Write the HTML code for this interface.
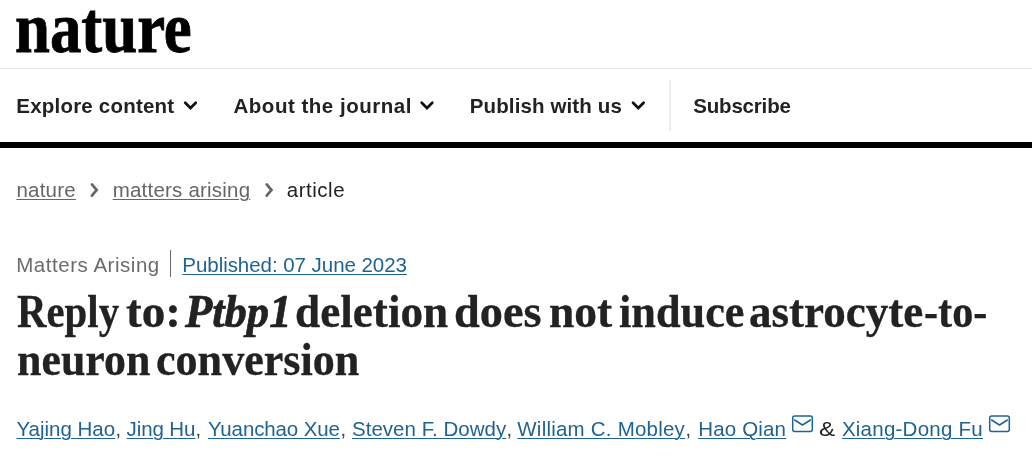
<!DOCTYPE html>
<html lang="en"><head><meta charset="utf-8"><title>Reply to: Ptbp1 deletion does not induce astrocyte-to-neuron conversion | Nature</title>
<style>
html,body{margin:0;padding:0;background:#fff;}
body{width:1032px;height:463px;position:relative;overflow:hidden;font-family:'Liberation Sans',Arial,sans-serif;}
ul,ol,li,h1,nav,header,main,article,p{margin:0;padding:0;list-style:none;font-weight:inherit;font-size:inherit;}
a{color:inherit;}
.t{position:absolute;white-space:pre;display:block;}
#n1{left:16.25px;top:76.00px;font:bold 20.5px 'Liberation Sans', Arial, sans-serif;line-height:60px;letter-spacing:0.214px;color:#222;}
#n2{left:233.50px;top:76.00px;font:bold 20.5px 'Liberation Sans', Arial, sans-serif;line-height:60px;letter-spacing:0.516px;color:#222;}
#n3{left:469.75px;top:76.00px;font:bold 20.5px 'Liberation Sans', Arial, sans-serif;line-height:60px;letter-spacing:0.125px;color:#222;}
#n4{left:693.25px;top:76.00px;font:bold 20.5px 'Liberation Sans', Arial, sans-serif;line-height:60px;letter-spacing:-0.188px;color:#222;}
#b1{left:16.40px;top:160.00px;font:20.5px 'Liberation Sans', Arial, sans-serif;line-height:60px;letter-spacing:0.225px;color:#666;text-decoration:underline;text-decoration-thickness:1px;text-underline-offset:2px;}
#b2{left:112.70px;top:160.00px;font:20.5px 'Liberation Sans', Arial, sans-serif;line-height:60px;letter-spacing:0.213px;color:#666;text-decoration:underline;text-decoration-thickness:1px;text-underline-offset:2px;}
#b3{left:286.80px;top:160.00px;font:20.5px 'Liberation Sans', Arial, sans-serif;line-height:60px;letter-spacing:0.508px;color:#222;}
#m1{left:16.25px;top:235.00px;font:20.5px 'Liberation Sans', Arial, sans-serif;line-height:60px;letter-spacing:0.529px;color:#6b6b6b;}
#m2{left:182.30px;top:235.00px;font:20.5px 'Liberation Sans', Arial, sans-serif;line-height:60px;letter-spacing:-0.046px;color:#1f6392;text-decoration:underline;text-decoration-thickness:1px;text-underline-offset:2px;}
#t1{left:16.72px;top:282.00px;font:bold 45px 'Liberation Serif', 'Times New Roman', serif;line-height:60px;color:#222;-webkit-text-stroke:0.3px #222;transform-origin:0 45px;transform:scale(0.9076,1.03);}
#t1b{left:126.48px;top:282.00px;font:bold 45px 'Liberation Serif', 'Times New Roman', serif;line-height:60px;color:#222;-webkit-text-stroke:0.3px #222;transform-origin:0 45px;transform:scale(1.0479,1.03);}
#t2{left:184.99px;top:282.00px;font:italic bold 45px 'Liberation Serif', 'Times New Roman', serif;line-height:60px;color:#222;-webkit-text-stroke:0.7px #222;transform-origin:0 45px;transform:scale(0.9899,1.03);}
#t3{left:295.24px;top:282.00px;font:bold 45px 'Liberation Serif', 'Times New Roman', serif;line-height:60px;color:#222;-webkit-text-stroke:0.3px #222;transform-origin:0 45px;transform:scale(1.005,1.03);}
#t4{left:454.40px;top:282.00px;font:bold 45px 'Liberation Serif', 'Times New Roman', serif;line-height:60px;color:#222;-webkit-text-stroke:0.3px #222;transform-origin:0 45px;transform:scale(1.0298,1.03);}
#t5{left:548.69px;top:282.00px;font:bold 45px 'Liberation Serif', 'Times New Roman', serif;line-height:60px;color:#222;-webkit-text-stroke:0.3px #222;transform-origin:0 45px;transform:scale(1.0114,1.03);}
#t6{left:618.56px;top:282.00px;font:bold 45px 'Liberation Serif', 'Times New Roman', serif;line-height:60px;color:#222;-webkit-text-stroke:0.3px #222;transform-origin:0 45px;transform:scale(0.9837,1.03);}
#t7{left:748.75px;top:282.00px;font:bold 45px 'Liberation Serif', 'Times New Roman', serif;line-height:60px;color:#222;-webkit-text-stroke:0.3px #222;transform-origin:0 45px;transform:scale(1.0015,1.03);}
#t7b{left:923.59px;top:282.00px;font:bold 45px 'Liberation Serif', 'Times New Roman', serif;line-height:60px;color:#222;-webkit-text-stroke:0.3px #222;transform-origin:0 45px;transform:scale(0.9395,1.03);}
#t8{left:16.82px;top:330.00px;font:bold 45px 'Liberation Serif', 'Times New Roman', serif;line-height:60px;color:#222;-webkit-text-stroke:0.3px #222;transform-origin:0 45px;transform:scale(0.976,1.03);}
#t9{left:156.13px;top:330.00px;font:bold 45px 'Liberation Serif', 'Times New Roman', serif;line-height:60px;color:#222;-webkit-text-stroke:0.3px #222;transform-origin:0 45px;transform:scale(0.98,1.03);}
#a1{left:16.40px;top:399.00px;font:20.5px 'Liberation Sans', Arial, sans-serif;line-height:60px;letter-spacing:-0.005px;color:#1f6392;text-decoration:underline;text-decoration-thickness:1px;text-underline-offset:2px;}
#a2{left:126.60px;top:399.00px;font:20.5px 'Liberation Sans', Arial, sans-serif;line-height:60px;letter-spacing:-0.114px;color:#1f6392;text-decoration:underline;text-decoration-thickness:1px;text-underline-offset:2px;}
#a3{left:207.90px;top:399.00px;font:20.5px 'Liberation Sans', Arial, sans-serif;line-height:60px;letter-spacing:-0.117px;color:#1f6392;text-decoration:underline;text-decoration-thickness:1px;text-underline-offset:2px;}
#a4{left:352.00px;top:399.00px;font:20.5px 'Liberation Sans', Arial, sans-serif;line-height:60px;letter-spacing:0.023px;color:#1f6392;text-decoration:underline;text-decoration-thickness:1px;text-underline-offset:2px;}
#a5{left:517.30px;top:399.00px;font:20.5px 'Liberation Sans', Arial, sans-serif;line-height:60px;letter-spacing:0.218px;color:#1f6392;text-decoration:underline;text-decoration-thickness:1px;text-underline-offset:2px;}
#a6{left:698.20px;top:399.00px;font:20.5px 'Liberation Sans', Arial, sans-serif;line-height:60px;letter-spacing:0.162px;color:#1f6392;text-decoration:underline;text-decoration-thickness:1px;text-underline-offset:2px;}
#a7{left:819.31px;top:399.00px;font:20.5px 'Liberation Sans', Arial, sans-serif;line-height:60px;color:#222;transform-origin:0 37px;transform:scale(1.184,1);}
#a8{left:841.90px;top:399.00px;font:20.5px 'Liberation Sans', Arial, sans-serif;line-height:60px;letter-spacing:0.246px;color:#1f6392;text-decoration:underline;text-decoration-thickness:1px;text-underline-offset:2px;}
.ln{position:absolute;display:block;}
#hl1{left:0;top:68px;width:1032px;height:1px;background:#e9e9e9;}
#hl2{left:0;top:142px;width:1032px;height:6px;background:#000;}
#vs1{left:669px;top:80px;width:2px;height:51px;background:#efefef;}
#vs2{left:170px;top:250px;width:1px;height:27px;background:#6a6a6a;}
svg.ic{position:absolute;overflow:visible;}
#logo{position:absolute;display:block;text-decoration:none;left:15.4px;top:-2px;-webkit-text-stroke:0.9px #000;font:bold 72px 'Liberation Serif','Times New Roman',serif;line-height:60px;color:#000;white-space:pre;transform-origin:0 0;transform:scaleX(0.872);}
.cm{position:absolute;font:20px 'Liberation Sans',Arial,sans-serif;line-height:60px;color:#444;top:399px;}

</style></head><body>
<header class="site-header">
<a id="logo" href="#">nature</a>
<i class="ln" id="hl1"></i>
<nav class="main-menu"><ul>
<li><span class="t" id="n1">Explore content</span></li>
<li><span class="t" id="n2">About the journal</span></li>
<li><span class="t" id="n3">Publish with us</span></li>
<li><i class="ln" id="vs1"></i><span class="t" id="n4">Subscribe</span></li>
</ul></nav>
<i class="ln" id="hl2"></i>
</header>
<nav class="breadcrumb"><ol>
<li><a class="t" id="b1" href="#">nature</a></li>
<li><a class="t" id="b2" href="#">matters arising</a></li>
<li><span class="t" id="b3">article</span></li>
</ol></nav>
<main><article><header>
<ul class="identifiers"><li><span class="t" id="m1">Matters Arising</span></li><li><i class="ln" id="vs2"></i><a class="t" id="m2" href="#">Published: 07 June 2023</a></li></ul>
<h1 class="article-title"><span class="t" id="t1">Reply</span> <span class="t" id="t1b">to:</span> <em class="t" id="t2">Ptbp1</em> <span class="t" id="t3">deletion</span> <span class="t" id="t4">does</span> <span class="t" id="t5">not</span> <span class="t" id="t6">induce</span> <span class="t" id="t7">astrocyte</span><span class="t" id="t7b">-to-</span><span class="t" id="t8">neuron</span> <span class="t" id="t9">conversion</span></h1>
<ul class="author-list">
<li><a class="t" id="a1" href="#">Yajing Hao</a><span class="cm" style="left:115.5px">,</span></li>
<li><a class="t" id="a2" href="#">Jing Hu</a><span class="cm" style="left:195.5px">,</span></li>
<li><a class="t" id="a3" href="#">Yuanchao Xue</a><span class="cm" style="left:340.5px">,</span></li>
<li><a class="t" id="a4" href="#">Steven F. Dowdy</a><span class="cm" style="left:506.5px">,</span></li>
<li><a class="t" id="a5" href="#">William C. Mobley</a><span class="cm" style="left:685.5px">,</span></li>
<li><a class="t" id="a6" href="#">Hao Qian</a></li>
<li><span class="t" id="a7">&amp;</span> <a class="t" id="a8" href="#">Xiang-Dong Fu</a></li>
</ul>
</header></article></main>
<svg class="ic" style="left:0;top:0" width="1032" height="463" viewBox="0 0 1032 463" fill="none">
<g stroke="#111" stroke-width="2.7" stroke-linecap="round" stroke-linejoin="miter">
<polyline points="185.2,102.8 190.5,108 195.8,102.8"/>
<polyline points="421.7,102.8 427,108 432.3,102.8"/>
<polyline points="633,102.8 638.3,108 643.6,102.8"/>
</g>
<g stroke="#666" stroke-width="2.7" stroke-linecap="round" stroke-linejoin="miter">
<polyline points="91.9,184.4 96.7,190 91.9,195.6"/>
<polyline points="266.7,184.4 271.5,190 266.7,195.6"/>
</g>
<g stroke="#1f6392" stroke-width="1.5" stroke-linejoin="round" stroke-linecap="round">
<rect x="792.7" y="416" width="19.6" height="15.4" rx="2"/>
<polyline points="794.6,420 802.5,425 810.4,420"/>
<rect x="989.7" y="416" width="19.6" height="15.4" rx="2"/>
<polyline points="991.6,420 999.5,425 1007.4,420"/>
</g>
</svg>

</body></html>
